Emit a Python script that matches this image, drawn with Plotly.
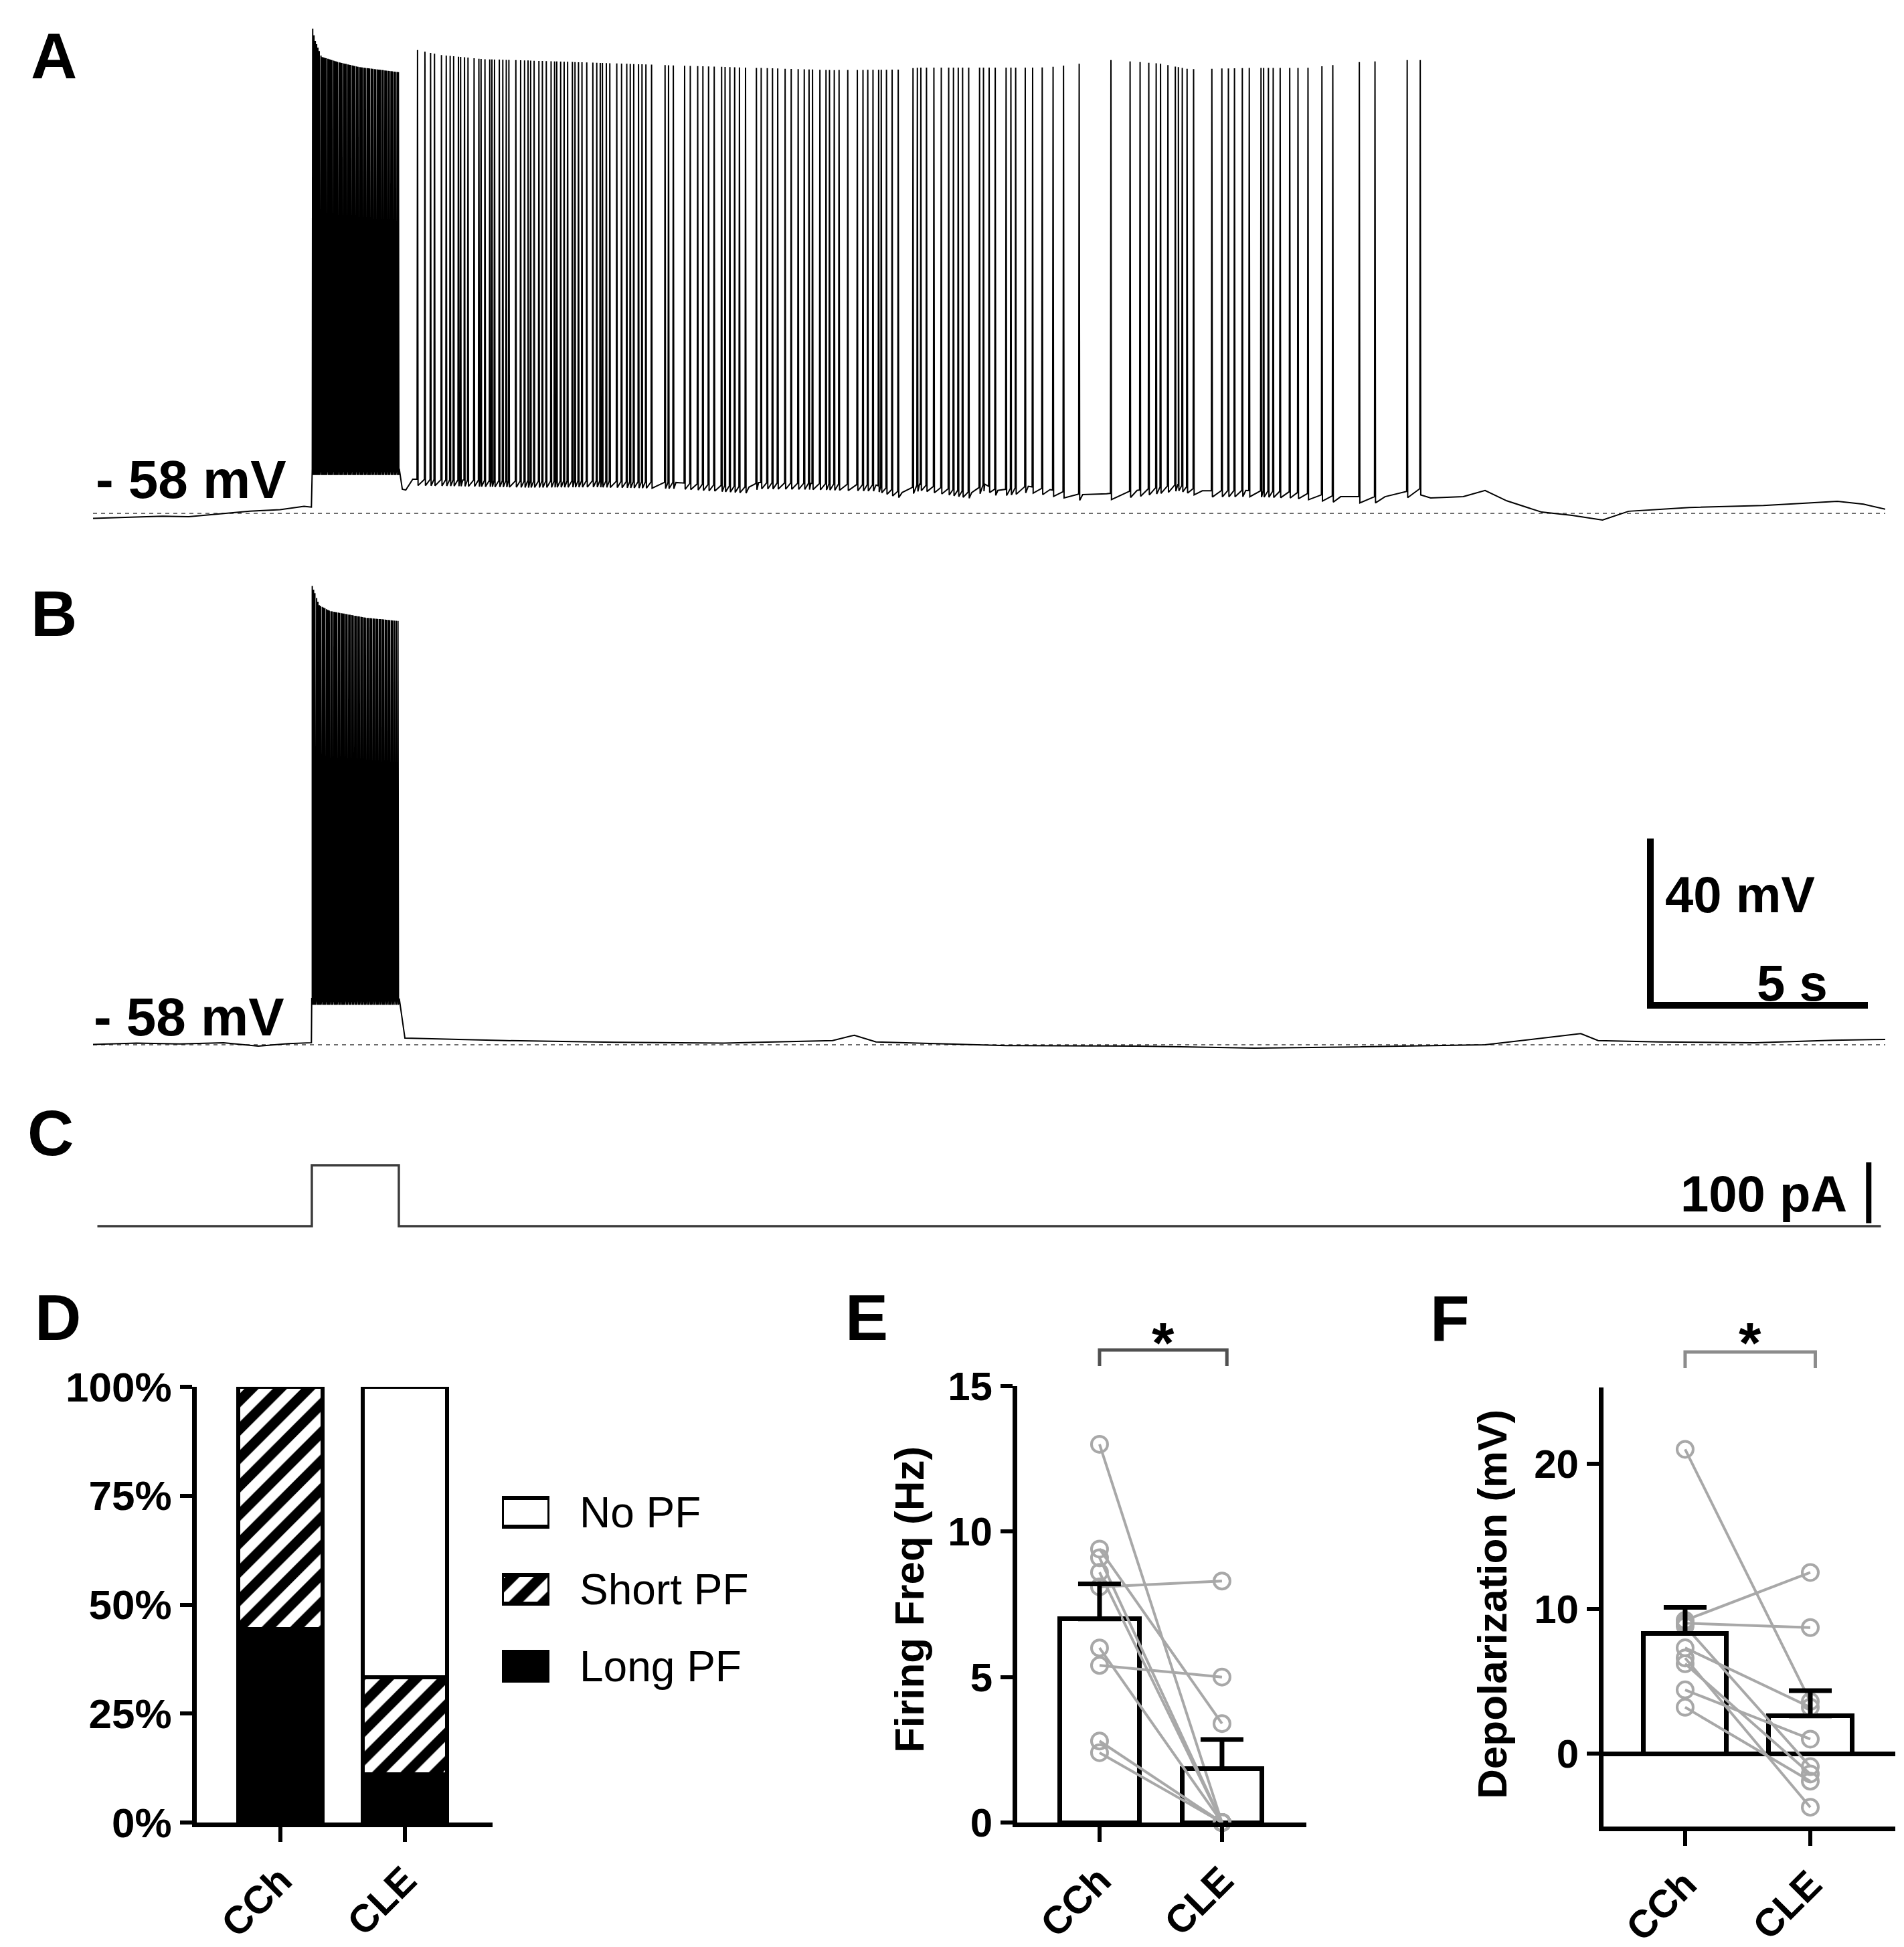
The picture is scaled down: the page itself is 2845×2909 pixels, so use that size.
import numpy as np
import plotly.graph_objects as go

W, H = 2845, 2909
FONT = "Liberation Sans"

# ---------------- A / B / C recordings (time s, Vm mV, current pA) ----------------
# baseline of trace A (between spikes)
a_base_t = [0.0, 0.8, 1.6, 2.2, 3.0, 3.6, 4.3, 4.85, 5.02, 5.04, 7.04, 7.11, 7.19, 7.35,
            8.5, 10.0, 11.5, 13.4, 15.08, 15.3, 16.5, 18.0, 18.6, 19.0, 20.2, 20.5, 20.8,
            21.5, 22.0, 22.75, 23.3, 24.0, 24.95, 25.5, 26.5, 27.5, 28.68, 29.7, 30.5,
            30.75, 31.5, 32.0, 32.5, 33.3, 34.0, 34.7, 35.3, 36.7, 38.4, 39.3, 40.1, 40.7, 41.2]
a_base_v = [-59.2, -59.0, -58.7, -58.8, -58.0, -57.5, -57.1, -56.3, -56.5, -47.3, -47.3, -52.2,
            -52.4, -49.8, -50.0, -50.3, -50.2, -50.6, -51.7, -50.6, -50.8, -51.2, -53.0, -51.0,
            -53.0, -51.0, -52.5, -51.5, -52.3, -53.5, -53.3, -52.5, -51.1, -52.6, -52.5, -52.8,
            -54.0, -54.0, -52.0, -54.3, -54.0, -52.5, -55.0, -57.7, -58.5, -59.6, -57.5, -56.6,
            -56.1, -55.6, -55.1, -55.8, -57.0]
# spike peak envelope of trace A
a_peak_t = [5.03, 5.1, 5.25, 5.64, 6.13, 7.02, 7.46, 8.0, 9.0, 10.0, 12.0, 13.4, 15.0, 17.0,
            18.5, 19.0, 21.8, 22.07, 23.4, 24.5, 25.2, 26.5, 27.9, 29.1, 30.2, 30.6]
a_peak_v = [59.4, 55.7, 51.6, 50.3, 49.1, 47.9, 53.2, 52.0, 51.0, 50.7, 50.0, 49.5, 49.0, 48.4,
            48.5, 49.0, 49.0, 49.2, 50.8, 50.0, 48.6, 48.9, 48.9, 50.3, 50.8, 50.8]
# spikes during the current step (A)
a_burst_t = [5.05, 5.08, 5.11, 5.14, 5.17, 5.20, 5.24, 5.27, 5.30, 5.33, 5.36, 5.40, 5.43, 5.46,
             5.49, 5.53, 5.56, 5.59, 5.62, 5.66, 5.69, 5.72, 5.76, 5.79, 5.82, 5.86, 5.89, 5.92,
             5.96, 5.99, 6.02, 6.06, 6.09, 6.13, 6.16, 6.19, 6.23, 6.26, 6.30, 6.33, 6.36, 6.40,
             6.43, 6.47, 6.50, 6.54, 6.57, 6.60, 6.64, 6.67, 6.71, 6.74, 6.78, 6.81, 6.85, 6.88,
             6.92, 6.95, 6.99, 7.02]
# persistent firing after the step (A)
a_spike_t = [7.46, 7.63, 7.76, 7.85, 8.01, 8.12, 8.21, 8.29, 8.40, 8.45, 8.54, 8.62, 8.76, 8.87,
             8.92, 9.01, 9.12, 9.17, 9.23, 9.34, 9.42, 9.50, 9.56, 9.72, 9.83, 9.92, 10.00, 10.06,
             10.14, 10.25, 10.33, 10.42, 10.53, 10.61, 10.66, 10.75, 10.83, 10.91, 11.02, 11.08,
             11.16, 11.24, 11.35, 11.49, 11.58, 11.66, 11.71, 11.80, 11.88, 12.04, 12.15, 12.27,
             12.35, 12.43, 12.54, 12.62, 12.71, 12.84, 13.15, 13.23, 13.34,
             13.60, 13.73, 13.90, 14.02, 14.15, 14.28, 14.45, 14.53, 14.64, 14.75, 14.86, 15.00,
             15.25, 15.36, 15.50, 15.62, 15.74, 15.91, 16.05, 16.21, 16.35, 16.46, 16.54, 16.71,
             16.85, 16.93, 17.04, 17.15, 17.35, 17.57, 17.70, 17.81, 17.93, 18.06, 18.12, 18.24,
             18.37, 18.51, 18.85, 18.95, 19.03, 19.16, 19.33, 19.50, 19.67, 19.78, 19.89, 19.99,
             20.13, 20.38, 20.47, 20.60, 20.74, 20.99, 21.10, 21.21, 21.43, 21.60, 21.82,
             22.07, 22.31, 22.67, 23.40, 23.84, 24.07, 24.27, 24.44, 24.54, 24.71, 24.88, 24.95,
             25.04, 25.15, 25.30, 25.72, 25.95, 26.10, 26.24, 26.42, 26.58, 26.85, 26.91, 27.02,
             27.13, 27.29, 27.51, 27.70, 27.93, 28.25, 28.50, 29.11, 29.47, 30.21, 30.51]

b_base_t = [0.0, 1.0, 2.0, 3.0, 3.8, 4.5, 5.02, 5.04, 7.04, 7.17, 9.5, 12.0, 14.5, 17.0, 17.5,
            18.0, 21.0, 24.0, 26.7, 29.0, 32.0, 34.2, 34.6, 36.0, 38.2, 40.0, 41.2]
b_base_v = [-57.9, -57.6, -57.8, -57.5, -58.3, -57.7, -57.5, -46.9, -46.9, -56.4, -57.0, -57.4,
            -57.6, -57.0, -55.7, -57.3, -58.2, -58.3, -58.8, -58.5, -58.0, -55.3, -57.0, -57.3,
            -57.5, -56.9, -56.7]
b_peak_t = [5.03, 5.2, 5.45, 6.27, 7.05]
b_peak_v = [52.4, 47.5, 46.1, 44.5, 43.7]
b_burst_t = [5.04, 5.07, 5.10, 5.14, 5.17, 5.20, 5.23, 5.27, 5.30, 5.33, 5.37, 5.40, 5.43, 5.47,
             5.50, 5.54, 5.57, 5.60, 5.64, 5.67, 5.71, 5.74, 5.77, 5.81, 5.84, 5.88, 5.91, 5.95,
             5.98, 6.02, 6.05, 6.09, 6.12, 6.16, 6.19, 6.23, 6.26, 6.30, 6.33, 6.37, 6.40, 6.44,
             6.47, 6.51, 6.54, 6.58, 6.61, 6.65, 6.68, 6.72, 6.75, 6.79, 6.82, 6.86, 6.89, 6.93,
             6.97, 7.01]

c_t = [0.1, 5.03, 5.03, 7.03, 7.03, 41.1]
c_pa = [0, 0, 100, 100, 0, 0]

rest_mv = -58
t_end = 41.2

# ---------------- D / E / F summary data ----------------
groups = ["CCh", "CLE"]
long_pf = [44.4, 11.1]
short_pf = [55.6, 22.2]
no_pf = [0.0, 66.7]
pct_ticks = [0, 25, 50, 75, 100]

freq_mean = [7.0, 1.85]
freq_sem = [1.2, 1.0]
freq_cch = [13.0, 9.4, 9.1, 8.6, 8.1, 6.0, 5.4, 2.8, 2.4]
freq_cle = [0.0, 3.4, 0.0, 0.0, 8.3, 0.0, 5.0, 0.0, 0.0]

dep_mean = [8.3, 2.6]
dep_sem = [1.8, 1.75]
dep_cch = [21.0, 9.2, 9.0, 8.8, 7.3, 6.6, 6.2, 4.4, 3.2]
dep_cle = [3.6, 12.5, 8.7, -0.9, 3.2, -3.7, -1.4, 1.0, -1.9]


def fx(X):
    return X / W


def fy(Y):
    return 1 - Y / H


def build(base_t, base_v, spk_t, pk_t, pk_v):
    spk_t = np.asarray(spk_t)
    foot = np.interp(spk_t, base_t, base_v)
    peak = np.interp(spk_t, pk_t, pk_v)
    t = np.concatenate([base_t, spk_t - 0.012, spk_t, spk_t + 0.012])
    v = np.concatenate([base_v, foot, peak, foot - 1.5])
    order = np.argsort(t, kind="stable")
    return t[order], v[order]


fig = go.Figure()

ta, va = build(a_base_t, a_base_v, a_burst_t + a_spike_t, a_peak_t, a_peak_v)
tb, vb = build(b_base_t, b_base_v, b_burst_t, b_peak_t, b_peak_v)

fig.add_trace(go.Scatter(x=ta, y=va, mode="lines", line=dict(color="black", width=2),
                         xaxis="x", yaxis="y"))
fig.add_trace(go.Scatter(x=tb, y=vb, mode="lines", line=dict(color="black", width=2),
                         xaxis="x2", yaxis="y2"))
fig.add_trace(go.Scatter(x=c_t, y=c_pa, mode="lines", line=dict(color="#3c3c3c", width=3.5),
                         xaxis="x3", yaxis="y3"))

# D stacked bars
xd = [0, 1]
bar_line = dict(color="black", width=6)
hatch = dict(shape="/", fgcolor="black", bgcolor="white", fgopacity=1, fillmode="replace",
             size=30, solidity=0.5)
fig.add_trace(go.Bar(x=xd, y=long_pf, width=0.677, marker=dict(color="black", line=bar_line),
                     xaxis="x4", yaxis="y4", cliponaxis=False))
fig.add_trace(go.Bar(x=xd, y=short_pf, width=0.677,
                     marker=dict(color="white", line=bar_line, pattern=hatch),
                     xaxis="x4", yaxis="y4", cliponaxis=False))
fig.add_trace(go.Bar(x=xd, y=no_pf, width=0.677, marker=dict(color="white", line=bar_line),
                     xaxis="x4", yaxis="y4", cliponaxis=False))

# D legend swatches
leg_names = ["No PF", "Short PF", "Long PF"]
leg_marker = [dict(color="white", line=bar_line),
              dict(color="white", line=bar_line, pattern=hatch),
              dict(color="black", line=bar_line)]
for name, mk in zip(leg_names, leg_marker):
    fig.add_trace(go.Bar(y=[name], x=[1], orientation="h", width=0.37, marker=mk,
                         xaxis="x5", yaxis="y5", cliponaxis=False))


def paired(ax, ay, cch, cle, mean, sem, width):
    fig.add_trace(go.Bar(x=[0, 1], y=mean, width=width,
                         marker=dict(color="white", line=dict(color="black", width=7)),
                         xaxis=ax, yaxis=ay, cliponaxis=False))
    lx, ly = [], []
    for a, b in zip(cch, cle):
        lx += [0, 1, None]
        ly += [a, b, None]
    fig.add_trace(go.Scatter(x=lx, y=ly, mode="lines", line=dict(color="#a8a8a8", width=4),
                             xaxis=ax, yaxis=ay, cliponaxis=False))
    fig.add_trace(go.Scatter(x=[0] * len(cch) + [1] * len(cle), y=cch + cle, mode="markers",
                             marker=dict(symbol="circle-open", size=24, color="#a8a8a8",
                                         line=dict(width=4, color="#a8a8a8")),
                             xaxis=ax, yaxis=ay, cliponaxis=False))
    fig.add_trace(go.Scatter(x=[0, 1], y=mean, mode="markers", marker=dict(size=1, opacity=0),
                             error_y=dict(type="data", array=sem, arrayminus=[0, 0],
                                          symmetric=False, thickness=7, width=32, color="black"),
                             xaxis=ax, yaxis=ay, cliponaxis=False))


paired("x6", "y6", freq_cch, freq_cle, freq_mean, freq_sem, 0.65)
paired("x7", "y7", dep_cch, dep_cle, dep_mean, dep_sem, 0.663)

tick_font = dict(family=FONT, size=60, color="black", weight="bold")
hidden = dict(visible=False, showgrid=False, zeroline=False, automargin=False)

cat_x = dict(tickvals=[0, 1], ticktext=groups, tickangle=-45, ticks="outside", ticklen=22,
             tickwidth=6, tickcolor="black", showline=True, linewidth=7, linecolor="black",
             showgrid=False, zeroline=False, automargin=False,
             tickfont=dict(family=FONT, size=58, color="black", weight="bold"))
val_y = dict(ticks="outside", ticklen=18, tickwidth=6, tickcolor="black", showline=True,
             linewidth=7, linecolor="black", showgrid=False, automargin=False)

fig.update_layout(
    width=W, height=H, margin=dict(l=0, r=0, t=0, b=0, pad=0, autoexpand=False),
    paper_bgcolor="white", plot_bgcolor="white", showlegend=False,
    barmode="stack", font=dict(family=FONT, color="black"),
    xaxis=dict(domain=[fx(131), fx(2809)], range=[0, t_end], **hidden),
    yaxis=dict(domain=[fy(800), fy(0)], range=[-64.59, 63.93], **hidden),
    xaxis2=dict(domain=[fx(131), fx(2809)], range=[0, t_end], anchor="y2", **hidden),
    yaxis2=dict(domain=[fy(1620), fy(820)], range=[-68.76, 59.75], anchor="x2", **hidden),
    xaxis3=dict(domain=[fx(131), fx(2809)], range=[0, t_end], anchor="y3", **hidden),
    yaxis3=dict(domain=[fy(1870), fy(1640)], range=[-50.5, 202.2], anchor="x3", **hidden),
    xaxis4=dict(domain=[fx(286), fx(728)], range=[-0.672, 1.704], anchor="y4", **cat_x),
    yaxis4=dict(domain=[fy(2715), fy(2064)], range=[0, 100], anchor="x4",
                tickvals=pct_ticks, ticktext=[f"{p}%" for p in pct_ticks], zeroline=False,
                tickfont=dict(family=FONT, size=62, color="black", weight="bold"), **val_y),
    xaxis5=dict(domain=[fx(742), fx(813)], range=[0, 1], anchor="y5", **hidden),
    yaxis5=dict(domain=[fy(2539), fy(2194)], range=[-0.5, 2.5], anchor="x5", type="category",
                categoryorder="array", categoryarray=["Long PF", "Short PF", "No PF"], **hidden),
    xaxis6=dict(domain=[fx(1512), fx(1944)], range=[-0.672, 1.689], anchor="y6", **cat_x),
    yaxis6=dict(domain=[fy(2715), fy(2063)], range=[0, 15], anchor="x6",
                tickvals=[0, 5, 10, 15], zeroline=False, tickfont=tick_font, **val_y),
    xaxis7=dict(domain=[fx(2388), fx(2824)], range=[-0.652, 1.679], anchor="y7", **cat_x),
    yaxis7=dict(domain=[fy(2721), fy(2065)], range=[-5.03, 25.27], anchor="x7",
                tickvals=[0, 10, 20], zeroline=True, zerolinewidth=7, zerolinecolor="black",
                tickfont=tick_font, **val_y),
)

shapes = []
# dashed resting level in A and B
for xr, yr in (("x", "y"), ("x2", "y2")):
    shapes.append(dict(type="line", xref=xr, yref=yr, x0=0, x1=t_end, y0=rest_mv, y1=rest_mv,
                       line=dict(color="#6e6e6e", width=2, dash="6px,6px"), layer="below"))
# scale bars: 40 mV / 5 s in B, 100 pA in C
shapes.append(dict(type="path", xref="x2", yref="y2",
                   path="M 35.8,-8.5 L 35.8,-48.5 L 40.8,-48.5",
                   line=dict(color="black", width=10)))
shapes.append(dict(type="line", xref="x3", yref="y3", x0=40.82, x1=40.82, y0=5, y1=105,
                   line=dict(color="black", width=8)))
# significance brackets
for xr, col, yb in (("x6", "#505050", 2009), ("x7", "#8c8c8c", 2012)):
    shapes.append(dict(type="path", xref=xr, yref="paper",
                       path=f"M 0,{fy(yb + 24)} L 0,{fy(yb)} L 1.04,{fy(yb)} L 1.04,{fy(yb + 24)}",
                       line=dict(color=col, width=5)))
fig.update_layout(shapes=shapes)

ann = []
big = dict(family=FONT, size=96, color="black", weight="bold")
for letter, X, Y in (("A", 36, 75), ("B", 36, 909), ("C", 31, 1684), ("D", 42, 1960),
                     ("E", 1253, 1960), ("F", 2127, 1962)):
    ann.append(dict(text=letter, x=fx(X), y=fy(Y), xref="paper", yref="paper",
                    xanchor="left", yanchor="middle", showarrow=False, font=big))
lab = dict(family=FONT, size=80, color="black", weight="bold")
ann.append(dict(text="- 58 mV", x=fx(422), y=fy(708), xref="paper", yref="paper",
                xanchor="right", yanchor="middle", showarrow=False, font=lab))
ann.append(dict(text="- 58 mV", x=fx(419), y=fy(1511), xref="paper", yref="paper",
                xanchor="right", yanchor="middle", showarrow=False, font=lab))
sb = dict(family=FONT, size=76, color="black", weight="bold")
ann.append(dict(text="40 mV", x=fx(2478), y=fy(1328), xref="paper", yref="paper",
                xanchor="left", yanchor="middle", showarrow=False, font=sb))
ann.append(dict(text="5 s", x=fx(2725), y=fy(1460), xref="paper", yref="paper",
                xanchor="right", yanchor="middle", showarrow=False, font=sb))
ann.append(dict(text="100 pA", x=fx(2754), y=fy(1775), xref="paper", yref="paper",
                xanchor="right", yanchor="middle", showarrow=False, font=sb))
# legend labels for D
for name in leg_names:
    ann.append(dict(text=name, x=fx(856), y=name, xref="paper", yref="y5",
                    xanchor="left", yanchor="middle", showarrow=False,
                    font=dict(family=FONT, size=64, color="black")))
# y titles
yt = dict(family=FONT, size=62, color="black", weight="bold")
ann.append(dict(text="Firing Freq (Hz)", x=fx(1350), y=fy(2382), xref="paper", yref="paper",
                textangle=-90, xanchor="center", yanchor="middle", showarrow=False, font=yt))
ann.append(dict(text="Depolarization (mV)", x=fx(2221), y=fy(2389), xref="paper", yref="paper",
                textangle=-90, xanchor="center", yanchor="middle", showarrow=False, font=yt))
# asterisks
for xr in ("x6", "x7"):
    ann.append(dict(text="*", x=0.52, y=fy(1998), xref=xr, yref="paper",
                    xanchor="center", yanchor="middle", showarrow=False,
                    font=dict(family=FONT, size=86, color="black", weight="bold")))
fig.update_layout(annotations=ann)

fig.write_html("out.html")
